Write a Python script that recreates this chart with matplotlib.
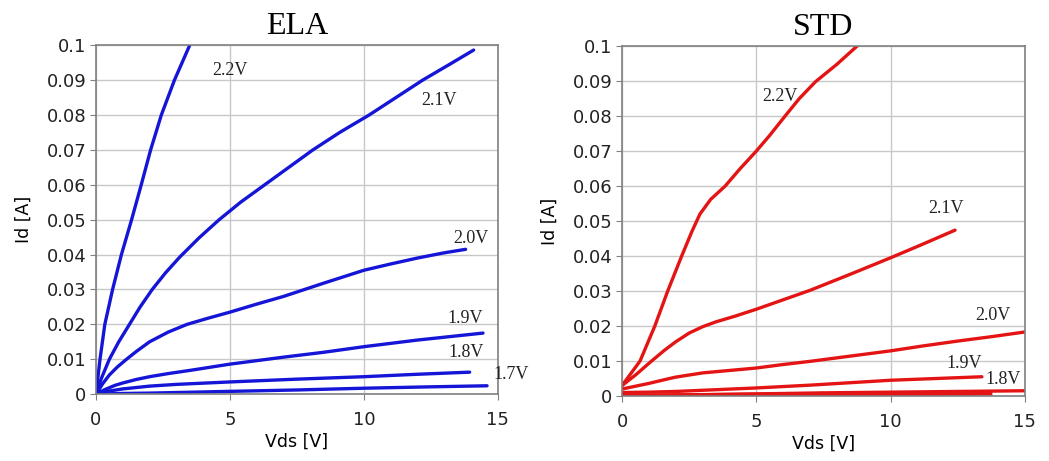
import numpy as np
import matplotlib.pyplot as plt
from matplotlib.ticker import FixedLocator

# ELA panel (Vds [V], Id [A])
ela_22_v = [0, 0.15, 0.33, 0.62, 0.95, 1.33, 1.69, 2.04, 2.44, 2.93, 3.5]
ela_22_i = [0, 0.01, 0.02, 0.03, 0.04, 0.05, 0.06, 0.07, 0.08, 0.09, 0.1]
ela_21_v = [0, 0.2, 0.5, 0.85, 1.25, 1.65, 2.1, 2.6, 3.13, 3.85, 4.6, 5.4,
            6.3, 7.2, 8.1, 9.1, 10.2, 11.2, 12.2, 13.2, 14.1]
ela_21_i = [0, 0.0045, 0.01, 0.015, 0.02, 0.025, 0.03, 0.0348, 0.0393, 0.0448,
            0.05, 0.055, 0.06, 0.065, 0.07, 0.075, 0.08, 0.085, 0.09,
            0.0945, 0.0986]
ela_20_v = [0, 0.25, 0.5, 0.8, 1.14, 1.5, 2.0, 2.7, 3.4, 4.2, 5.0, 6.0, 7.0,
            8.5, 10.0, 11.0, 12.0, 13.0, 13.8]
ela_20_i = [0, 0.003, 0.0055, 0.0078, 0.01, 0.0122, 0.015, 0.0178, 0.02,
            0.0218, 0.0235, 0.0258, 0.028, 0.0318, 0.0355, 0.0373, 0.039,
            0.0405, 0.0415]
ela_19_v = [0, 0.3, 0.7, 1.0, 1.5, 2.0, 2.7, 3.5, 5.0, 6.0, 7.0, 8.5, 10.0,
            12.0, 14.45]
ela_19_i = [0, 0.0012, 0.0025, 0.0032, 0.0042, 0.005, 0.0059, 0.0068, 0.0086,
            0.0096, 0.0106, 0.012, 0.0136, 0.0155, 0.0175]
ela_18_v = [0, 0.5, 1.0, 2.0, 3.0, 5.0, 7.5, 10.0, 12.0, 13.95]
ela_18_i = [0, 0.0009, 0.0015, 0.0023, 0.0028, 0.0035, 0.0043, 0.005, 0.0057,
            0.0063]
ela_17_v = [0, 1.0, 2.0, 5.0, 7.5, 10.0, 12.5, 14.6]
ela_17_i = [0, 0.0002, 0.0003, 0.0008, 0.0012, 0.0017, 0.0021, 0.0024]

# STD panel
std_22_v = [0, 0.67, 1.22, 1.7, 2.22, 2.6, 2.9, 3.3, 3.84, 4.4, 5.0, 5.5,
            6.07, 6.6, 7.2, 8.0, 8.75]
std_22_i = [0.003, 0.01, 0.02, 0.03, 0.04, 0.047, 0.052, 0.0562, 0.06, 0.065,
            0.07, 0.0745, 0.08, 0.085, 0.0898, 0.0948, 0.1]
std_21_v = [0, 0.5, 1.1, 1.6, 2.0, 2.5, 3.0, 3.5, 4.2, 5.0, 6.0, 7.0, 8.5,
            10.0, 11.2, 12.4]
std_21_i = [0.003, 0.006, 0.01, 0.0132, 0.0155, 0.018, 0.0198, 0.0212,
            0.0228, 0.0248, 0.0275, 0.0302, 0.0348, 0.0395, 0.0434, 0.0474]
std_20_v = [0, 0.5, 1.0, 1.6, 2.0, 2.5, 3.0, 4.0, 5.0, 6.0, 7.0, 8.5, 10.0,
            11.2, 12.5, 13.8, 15.0]
std_20_i = [0.002, 0.0028, 0.0036, 0.0047, 0.0054, 0.006, 0.0066, 0.0073,
            0.008, 0.009, 0.0099, 0.0114, 0.0129, 0.0143, 0.0157, 0.017,
            0.0183]
std_19_v = [0, 1.0, 2.0, 3.5, 5.0, 7.0, 8.5, 10.0, 11.7, 13.4]
std_19_i = [0.001, 0.0011, 0.0013, 0.0018, 0.0023, 0.0031, 0.0038, 0.0045,
            0.005, 0.0055]
std_18_v = [0, 2.5, 5.0, 7.5, 10.0, 12.5, 15.0]
std_18_i = [0, 0.0003, 0.0006, 0.0009, 0.0011, 0.0013, 0.0015]
std_17_v = [0, 5.0, 10.0, 13.7]
std_17_i = [0, 0.0003, 0.0006, 0.0008]

ela_labels = ["2.2V", "2.1V", "2.0V", "1.9V", "1.8V", "1.7V"]
ela_label_pos = [(5.0, 0.0928), (12.8, 0.0842), (14.0, 0.0447),
                 (13.8, 0.0218), (13.8, 0.012), (15.5, 0.0057)]
std_labels = ["2.2V", "2.1V", "2.0V", "1.9V", "1.8V"]
std_label_pos = [(5.87, 0.0855), (12.07, 0.0537), (13.8, 0.0229),
                 (12.75, 0.0094), (14.2, 0.0046)]

yticks = [0, 0.01, 0.02, 0.03, 0.04, 0.05, 0.06, 0.07, 0.08, 0.09, 0.1]
ytick_labels = ["0", "0.01", "0.02", "0.03", "0.04", "0.05", "0.06",
                "0.07", "0.08", "0.09", "0.1"]
xticks = [0, 5, 10, 15]

fig = plt.figure(figsize=(10.49, 4.61), dpi=100)
ax1 = fig.add_axes([0.0915, 0.145, 0.383, 0.757])
ax2 = fig.add_axes([0.593, 0.141, 0.384, 0.759])


def style(ax, title):
    ax.set_xlim(0, 15)
    ax.set_ylim(0, 0.1)
    ax.xaxis.set_major_locator(FixedLocator(xticks))
    ax.set_yticks(yticks)
    ax.set_yticklabels(ytick_labels)
    ax.grid(True, color="#c8c8c8", linewidth=1.0)
    ax.set_axisbelow(True)
    for s in ax.spines.values():
        s.set_color("#808080")
        s.set_linewidth(1.2)
    ax.tick_params(axis="both", labelsize=13, colors="#222222",
                   length=4, color="#808080", pad=3)
    ax.tick_params(axis="x", pad=8)
    ax.set_title(title, fontsize=23, family="Liberation Serif", pad=8)
    ax.set_xlabel("Vds [V]", fontsize=12.5, labelpad=3)
    ax.set_ylabel("Id [A]", fontsize=12.5, labelpad=10)


blue = "#1515d8"
for v, i in [(ela_22_v, ela_22_i), (ela_21_v, ela_21_i), (ela_20_v, ela_20_i),
             (ela_19_v, ela_19_i), (ela_18_v, ela_18_i), (ela_17_v, ela_17_i)]:
    ax1.plot(v, i, color=blue, lw=2.4, solid_capstyle="round",
             solid_joinstyle="round")
for lab, (x, y) in zip(ela_labels, ela_label_pos):
    ax1.text(x, y, lab, fontsize=13, family="Liberation Serif",
             ha="center", va="center", color="#222222", clip_on=False)
style(ax1, "ELA")

red = "#e41414"
for v, i in [(std_22_v, std_22_i), (std_21_v, std_21_i), (std_20_v, std_20_i),
             (std_19_v, std_19_i), (std_18_v, std_18_i)]:
    ax2.plot(v, i, color=red, lw=2.4, solid_capstyle="round",
             solid_joinstyle="round")
ax2.plot(std_17_v, std_17_i, color=red, lw=3.5)
for lab, (x, y) in zip(std_labels, std_label_pos):
    ax2.text(x, y, lab, fontsize=13, family="Liberation Serif",
             ha="center", va="center", color="#222222", clip_on=False)
style(ax2, "STD")

fig.savefig("out.png", dpi=100)
